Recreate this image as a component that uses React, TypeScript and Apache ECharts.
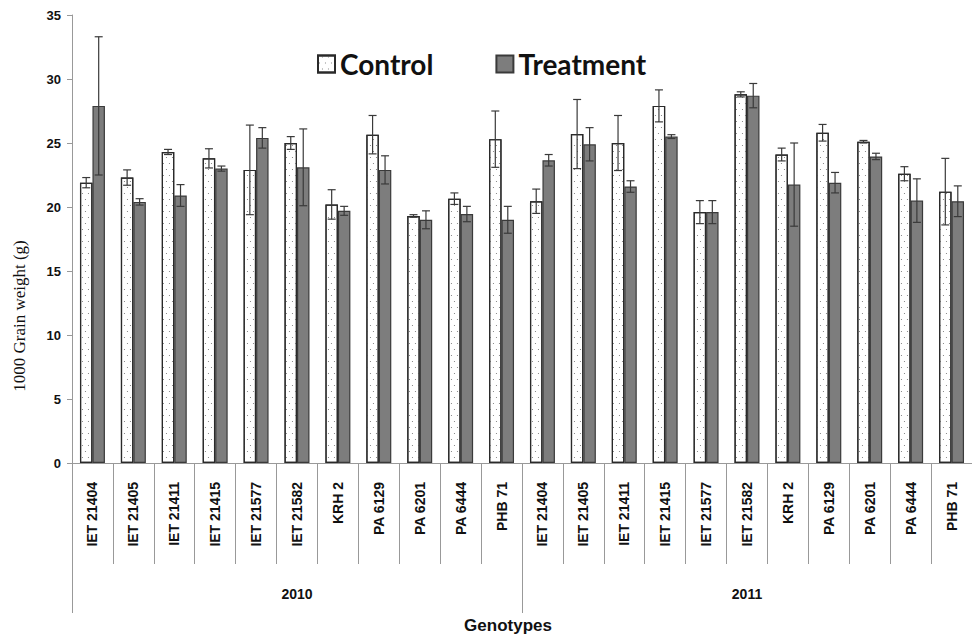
import React, { useEffect, useRef } from "react";
import * as echarts from "echarts";

const genotypes = ["IET 21404", "IET 21405", "IET 21411", "IET 21415", "IET 21577", "IET 21582", "KRH 2", "PA 6129", "PA 6201", "PA 6444", "PHB 71"];
const years = ["2010", "2011"];
const seriesNames = ["Control", "Treatment"];

const controlMeans = [21.9, 22.3, 24.3, 23.8, 22.9, 25.0, 20.2, 25.65, 19.3, 20.65, 25.3, 20.45, 25.7, 25.0, 27.9, 19.6, 28.8, 24.1, 25.8, 25.1, 22.6, 21.2];
const controlErr = [0.4, 0.6, 0.2, 0.75, 3.5, 0.5, 1.15, 1.5, 0.1, 0.45, 2.2, 0.95, 2.7, 2.15, 1.25, 0.9, 0.2, 0.5, 0.65, 0.1, 0.55, 2.6];
const treatMeans = [27.9, 20.4, 20.9, 23.0, 25.4, 23.1, 19.7, 22.9, 19.0, 19.45, 19.0, 23.65, 24.9, 21.6, 25.5, 19.6, 28.7, 21.75, 21.9, 23.95, 20.5, 20.45];
const treatErr = [5.4, 0.25, 0.85, 0.2, 0.8, 3.0, 0.35, 1.1, 0.7, 0.6, 1.05, 0.45, 1.3, 0.45, 0.15, 0.9, 0.95, 3.25, 0.8, 0.25, 1.7, 1.2];

const yTicks = { min: 0, max: 35, interval: 5 };
const yTitle = "1000 Grain weight (g)";
const xTitle = "Genotypes";

const BAR_FRAC = 0.305;

export default function App() {
  const ref = useRef<HTMLDivElement>(null);
  useEffect(() => {
    if (!ref.current) return;
    const chart = echarts.init(ref.current, null, { renderer: "svg" });
    const categories: string[] = [];
    years.forEach(() => genotypes.forEach((g) => categories.push(g)));

    const errSeries = (means: number[], errs: number[], side: number, name: string) => ({
      type: "custom",
      name: name + " err",
      xAxisIndex: 0,
      yAxisIndex: 0,
      z: 10,
      silent: true,
      data: means.map((m, i) => [i, m, errs[i]]),
      renderItem: (params: any, api: any) => {
        const i = api.value(0);
        const m = api.value(1);
        const e = api.value(2);
        const band = api.size([1, 0])[0];
        const bw = band * BAR_FRAC;
        const hi = api.coord([i, m + e]);
        const lo = api.coord([i, m - e]);
        const x = hi[0] + side * bw / 2;
        const cap = 4;
        const style = { stroke: "#3a3a3a", lineWidth: 1.2 };
        return {
          type: "group",
          children: [
            { type: "line", shape: { x1: x, y1: hi[1], x2: x, y2: lo[1] }, style },
            { type: "line", shape: { x1: x - cap, y1: hi[1], x2: x + cap, y2: hi[1] }, style },
            { type: "line", shape: { x1: x - cap, y1: lo[1], x2: x + cap, y2: lo[1] }, style },
          ],
        };
      },
    });

    chart.setOption({
      animation: false,
      backgroundColor: "#ffffff",
      grid: { left: 72, right: 0, top: 15, bottom: 172, containLabel: false },
      legend: {
        left: 312,
        top: 45,
        itemWidth: 17,
        itemHeight: 17,
        itemGap: 62,
        icon: "rect",
        data: seriesNames,
        textStyle: { fontFamily: "Lato", fontWeight: "bold", fontSize: 28, color: "#111" },
      },
      xAxis: [
        {
          type: "category",
          data: categories,
          position: "bottom",
          axisLine: { show: true, lineStyle: { color: "#999", width: 1 } },
          axisTick: { show: true, interval: 0, length: 101, lineStyle: { color: "#999" } },
          axisLabel: {
            interval: 0,
            rotate: 90,
            margin: 19,
            fontFamily: "Liberation Sans",
            fontWeight: "bold",
            fontSize: 14,
            color: "#111",
          },
        },
        {
          type: "category",
          data: years,
          position: "bottom",
          axisLine: { show: false },
          axisTick: { show: true, interval: 0, length: 150, lineStyle: { color: "#999" } },
          axisLabel: {
            interval: 0,
            margin: 124,
            fontFamily: "Liberation Sans",
            fontWeight: "bold",
            fontSize: 14,
            color: "#111",
          },
        },
      ],
      yAxis: {
        type: "value",
        min: yTicks.min,
        max: yTicks.max,
        interval: yTicks.interval,
        splitLine: { show: false },
        axisLine: { show: true, lineStyle: { color: "#999" } },
        axisTick: { show: true, length: 5, lineStyle: { color: "#999" } },
        axisLabel: {
          margin: 11,
          fontFamily: "Liberation Sans",
          fontWeight: "bold",
          fontSize: 13,
          color: "#111",
        },
      },
      graphic: [
        {
          type: "text",
          x: 19,
          y: 316,
          rotation: Math.PI / 2,
          style: {
            text: yTitle,
            fontFamily: "Liberation Serif",
            fontSize: 17,
            fill: "#111",
            align: "center",
            verticalAlign: "middle",
          },
        },
        {
          type: "text",
          x: 508,
          y: 625,
          style: {
            text: xTitle,
            fontFamily: "Liberation Sans",
            fontWeight: "bold",
            fontSize: 17,
            fill: "#111",
            align: "center",
            verticalAlign: "middle",
          },
        },
      ],
      series: [
        {
          type: "bar",
          name: seriesNames[0],
          data: controlMeans,
          barWidth: (BAR_FRAC * 100).toFixed(1) + "%",
          barGap: "0%",
          itemStyle: {
            color: "#ffffff",
            borderColor: "#2a2a2a",
            borderWidth: 1.2,
            decal: {
              symbol: "circle",
              symbolSize: 0.35,
              color: "#7a7a7a",
              dashArrayX: [[3, 3], [0, 3, 3, 0]],
              dashArrayY: [3, 3],
              rotation: 0,
            },
          },
        },
        {
          type: "bar",
          name: seriesNames[1],
          data: treatMeans,
          barWidth: (BAR_FRAC * 100).toFixed(1) + "%",
          barGap: "0%",
          itemStyle: { color: "#7d7d7d", borderColor: "#3a3a3a", borderWidth: 1.2 },
        },
        errSeries(controlMeans, controlErr, -1, seriesNames[0]),
        errSeries(treatMeans, treatErr, 1, seriesNames[1]),
      ],
    });
    return () => chart.dispose();
  }, []);
  return <div ref={ref} style={{ position: "fixed", left: 0, top: 0, width: 972, height: 635 }} />;
}
